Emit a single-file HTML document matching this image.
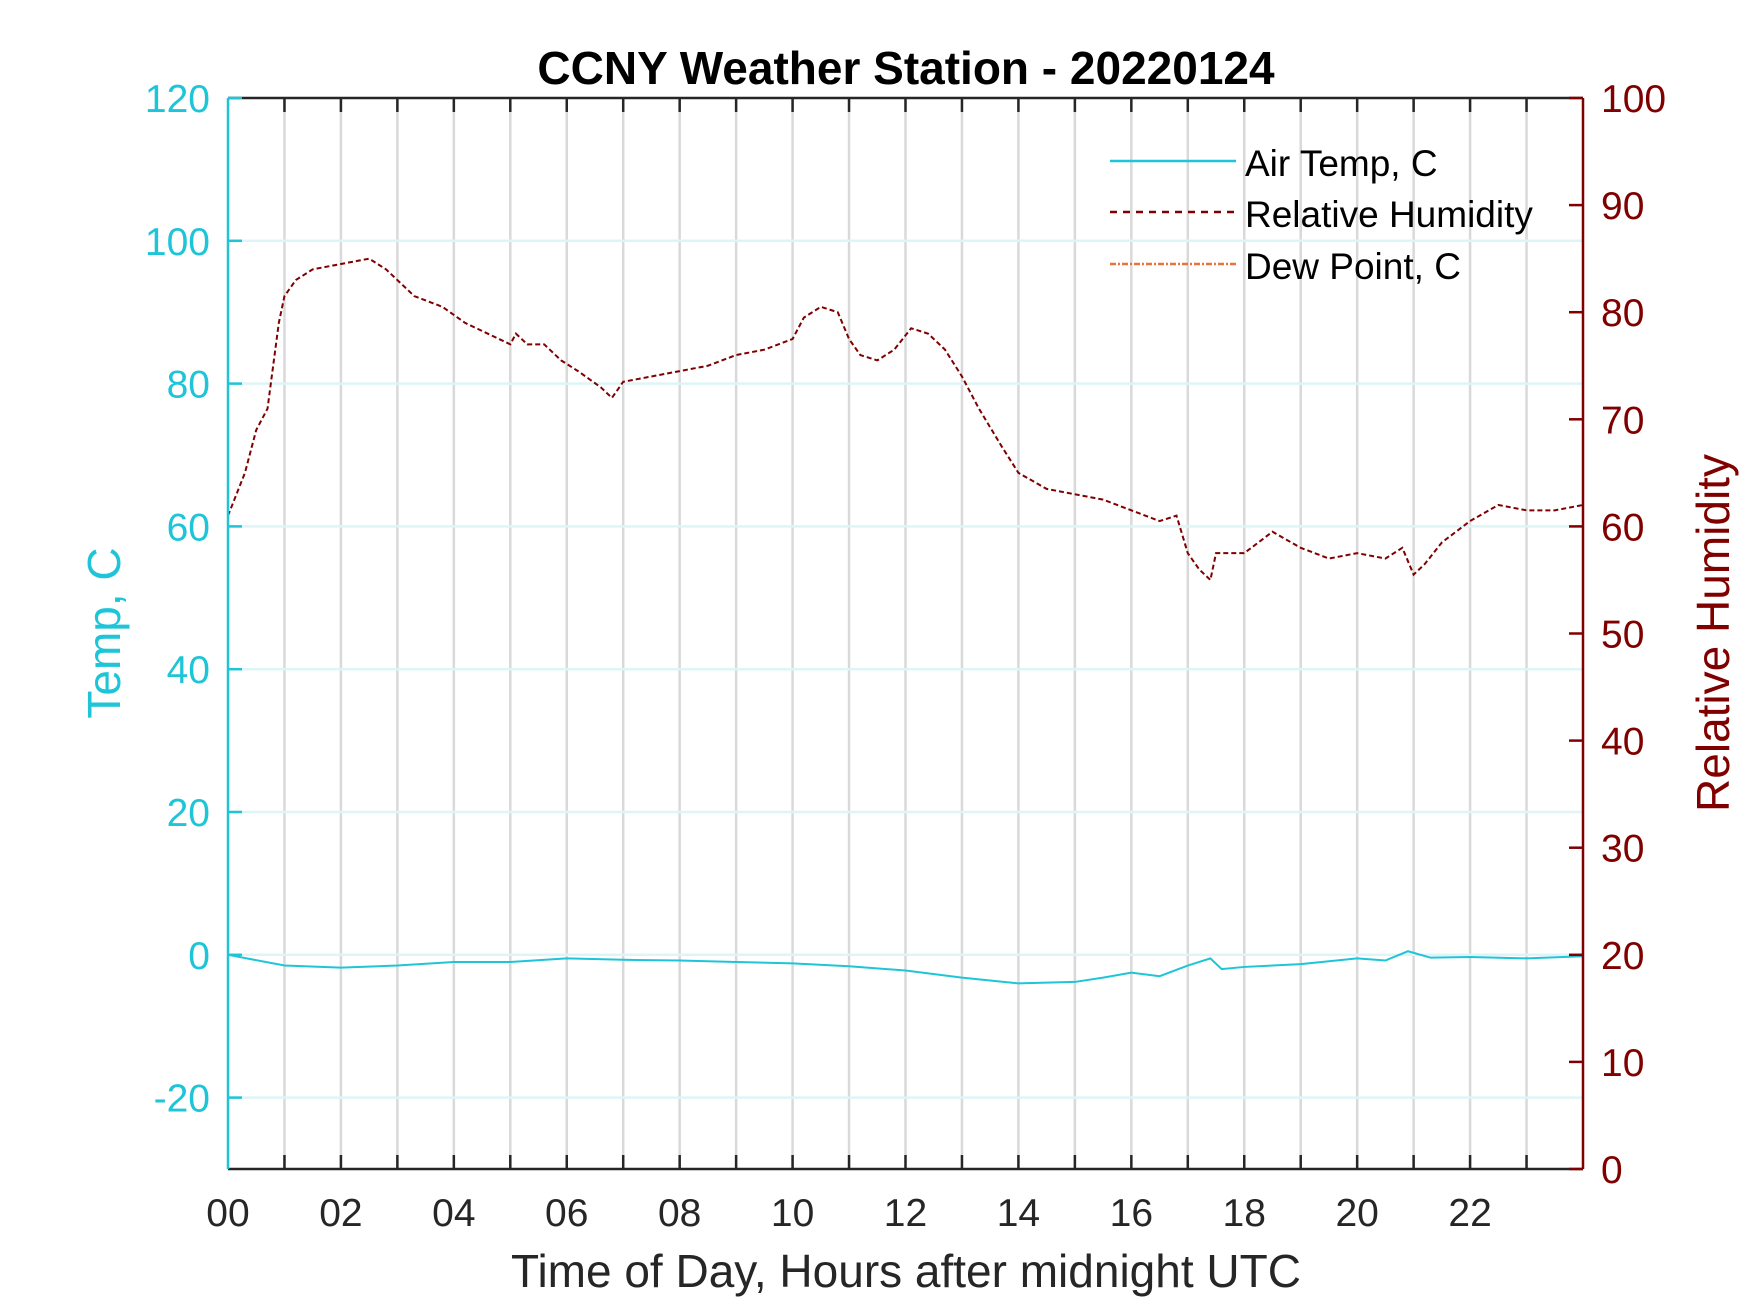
<!DOCTYPE html>
<html><head><meta charset="utf-8"><style>
body{margin:0;background:#fff}
svg{display:block;font-family:"Liberation Sans",Arial,sans-serif}
</style></head><body>
<svg id="chart" width="1750" height="1313" viewBox="0 0 1750 1313">
<text x="906" y="84" text-anchor="middle" font-size="46" font-weight="bold">CCNY Weather Station - 20220124</text>
<g id="grid"></g><g id="series"></g><g id="axes"></g>
<text x="906" y="1287" text-anchor="middle" font-size="46" fill="#262626">Time of Day, Hours after midnight UTC</text>
<text transform="translate(120,633) rotate(-90)" text-anchor="middle" font-size="46" fill="#1ec5d8">Temp, C</text>
<text transform="translate(1729,633) rotate(-90)" text-anchor="middle" font-size="46" fill="#800000">Relative Humidity</text>
<g>
<line x1="1110" y1="161" x2="1236" y2="161" stroke="#1ec5d8" stroke-width="2.5"/>
<text x="1245" y="176" font-size="37">Air Temp, C</text>
<line x1="1110" y1="212" x2="1236" y2="212" stroke="#800000" stroke-width="2.5" stroke-dasharray="7,6"/>
<text x="1245" y="227" font-size="37">Relative Humidity</text>
<line x1="1110" y1="264" x2="1236" y2="264" stroke="#e8743b" stroke-width="2.5" stroke-dasharray="6,2,2,2"/>
<text x="1245" y="279" font-size="37">Dew Point, C</text>
</g>
</svg>
<script>
const rhHours=[0,0.3,0.5,0.7,0.8,0.9,1.0,1.2,1.5,2.0,2.5,2.8,3.0,3.3,3.8,4.2,4.8,5.0,5.1,5.3,5.6,5.9,6.2,6.6,6.8,7.0,7.5,8.0,8.5,9.0,9.5,10.0,10.2,10.5,10.8,11.0,11.2,11.5,11.8,12.1,12.4,12.7,13.0,13.3,13.7,14.0,14.5,15.0,15.5,16.0,16.5,16.8,17.0,17.2,17.4,17.5,18.0,18.5,19.0,19.5,20.0,20.5,20.8,21.0,21.2,21.5,22.0,22.5,23.0,23.5,24];
const rhValues=[61,65,69,71,75,79,81.5,83,84,84.5,85,84,83,81.5,80.5,79,77.5,77,78,77,77,75.5,74.5,73,72,73.5,74,74.5,75,76,76.5,77.5,79.5,80.5,80,77.5,76,75.5,76.5,78.5,78,76.5,74,71,67.5,65,63.5,63,62.5,61.5,60.5,61,57.5,56,55,57.5,57.5,59.5,58,57,57.5,57,58,55.5,56.5,58.5,60.5,62,61.5,61.5,62];
const tHours=[0,1,2,3,4,5,6,7,8,9,10,11,12,13,14,15,15.5,16,16.5,17,17.4,17.6,18,19,20,20.5,20.9,21.3,22,23,24];
const tValues=[0,-1.5,-1.8,-1.5,-1,-1,-0.5,-0.7,-0.8,-1,-1.2,-1.6,-2.2,-3.2,-4,-3.8,-3.2,-2.5,-3,-1.5,-0.5,-2,-1.7,-1.3,-0.5,-0.8,0.5,-0.4,-0.3,-0.5,-0.2];
const leftTicks=[-20,0,20,40,60,80,100,120];
const rightTicks=[0,10,20,30,40,50,60,70,80,90,100];
const xTickLabels=["00","02","04","06","08","10","12","14","16","18","20","22"];
const PL=228,PR=1583,PT=98,PB=1169;
const xs=h=>PL+(PR-PL)*h/24;
const yl=v=>PT+(PB-PT)*(120-v)/150;
const yr=v=>PB-(PB-PT)*v/100;
const NS="http://www.w3.org/2000/svg";
function mk(tag,attrs,parent,text){const e=document.createElementNS(NS,tag);for(const k in attrs)e.setAttribute(k,attrs[k]);if(text!==undefined)e.textContent=text;document.getElementById(parent).appendChild(e);return e;}
for(let h=1;h<24;h++){
 const g=mk('line',{x1:xs(h),x2:xs(h),y1:PT,y2:PB,stroke:'#d9d9d9','stroke-width':2.5},'grid');
 
 
}
leftTicks.forEach(v=>{
 if(v===120)return;
 const g=mk('line',{x1:PL,x2:PR,y1:yl(v),y2:yl(v),stroke:'#dff4f7','stroke-width':2.5},'grid');
 
 
});
const tp=tHours.map((h,i)=>xs(h)+','+yl(tValues[i])).join(' ');
const tl=mk('polyline',{points:tp,fill:'none',stroke:'#1ec5d8','stroke-width':2},'series');


const rp=rhHours.map((h,i)=>xs(h)+','+yr(rhValues[i])).join(' ');
const rl=mk('polyline',{points:rp,fill:'none',stroke:'#800000','stroke-width':2,'stroke-dasharray':'5,3'},'series');


const topAx=mk('line',{x1:PL,x2:PR,y1:PT,y2:PT,stroke:'#262626','stroke-width':2.5},'axes');


const botAx=mk('line',{x1:PL,x2:PR,y1:PB,y2:PB,stroke:'#262626','stroke-width':2.5},'axes');


const leftAx=mk('line',{x1:PL,x2:PL,y1:PT,y2:PB,stroke:'#1ec5d8','stroke-width':2.5},'axes');


const rightAx=mk('line',{x1:PR,x2:PR,y1:PT,y2:PB,stroke:'#800000','stroke-width':2.5},'axes');


for(let h=1;h<24;h++){
 const a=mk('line',{x1:xs(h),x2:xs(h),y1:PB,y2:PB-14,stroke:'#262626','stroke-width':2.5},'axes');
 
 
 const b=mk('line',{x1:xs(h),x2:xs(h),y1:PT,y2:PT+14,stroke:'#262626','stroke-width':2.5},'axes');
 
 
}
xTickLabels.forEach((s,i)=>{
 const t=mk('text',{x:xs(i*2),y:1226,'text-anchor':'middle','font-size':39,fill:'#262626'},'axes',s);
 
 
});
leftTicks.forEach(v=>{
 const a=mk('line',{x1:PL,x2:PL+14,y1:yl(v),y2:yl(v),stroke:'#1ec5d8','stroke-width':2.5},'axes');
 
 
 const t=mk('text',{x:PL-18,y:yl(v)+14,'text-anchor':'end','font-size':39,fill:'#1ec5d8'},'axes',String(v));
 
 
});
rightTicks.forEach(v=>{
 const a=mk('line',{x1:PR,x2:PR-14,y1:yr(v),y2:yr(v),stroke:'#800000','stroke-width':2.5},'axes');
 
 
 const t=mk('text',{x:PR+18,y:yr(v)+14,'text-anchor':'start','font-size':39,fill:'#800000'},'axes',String(v));
 
 
});
</script>
</body></html>
